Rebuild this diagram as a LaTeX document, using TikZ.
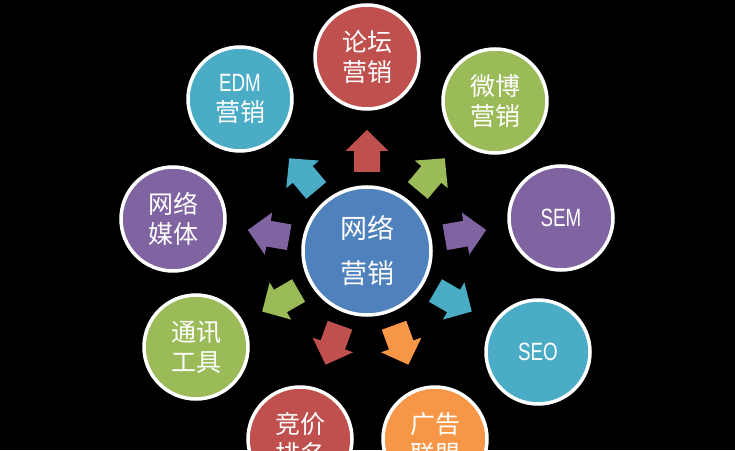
\documentclass[tikz,border=0pt]{standalone}
\usepackage{fontspec}
\newfontfamily\cjk{Noto Sans CJK SC}
\newfontfamily\lat[FakeStretch=0.75]{Liberation Sans}
\definecolor{cred}{HTML}{C0504D}
\definecolor{cgreen}{HTML}{9BBB59}
\definecolor{cpurple}{HTML}{8064A2}
\definecolor{caqua}{HTML}{4BACC6}
\definecolor{corange}{HTML}{F79646}
\definecolor{cblue}{HTML}{4F81BD}
\begin{document}
\begin{tikzpicture}[x=1pt,y=1pt,
  bubble/.style={circle, draw=white, line width=3.5pt, minimum size=104pt,
    inner sep=0pt, text=white, align=center,
    font=\cjk\fontsize{25}{30}\selectfont},
  hub/.style={bubble, minimum size=128pt, font=\cjk\fontsize{27}{45}\selectfont},
  latin/.style={font=\lat\fontsize{25}{30}\selectfont}]
\fill[black] (0,0) rectangle (735,450);
\useasboundingbox (0,0) rectangle (735,450);
\clip (0,0) rectangle (735,450);

\node[hub, fill=cblue] (hub) at (367,199) {网络\\营销};

\node[bubble, fill=cred]    (luntan) at (367,393) {论坛\\营销};
\node[bubble, fill=cgreen]  (weibo)  at (495,349) {微博\\营销};
\node[bubble, fill=cpurple, latin] (sem) at (561,232) {SEM};
\node[bubble, fill=caqua, latin]   (seo) at (538,98) {SEO};
\node[bubble, fill=corange] (guanggao) at (435,11) {广告\\联盟};
\node[bubble, fill=cred]    (jingjia)  at (300,11) {竞价\\排名};
\node[bubble, fill=cgreen]  (tongxun)  at (196,103) {通讯\\工具};
\node[bubble, fill=cpurple] (meiti)    at (173,231) {网络\\媒体};
\node[bubble, fill=caqua]   (edm)      at (240,351) {{\lat\fontsize{25}{30}\selectfont EDM}\\营销};

\foreach \ang/\col in {90/cred, 50/cgreen, 10/cpurple, -30/caqua, -70/corange,
                       -110/cred, -150/cgreen, 170/cpurple, 130/caqua}{
  \begin{scope}[shift={(hub.center)}, rotate=\ang]
    \fill[\col] (79,-13) -- (100,-13) -- (100,-21.5) -- (121,0)
      -- (100,21.5) -- (100,13) -- (79,13) -- cycle;
  \end{scope}
}
\end{tikzpicture}
\end{document}
